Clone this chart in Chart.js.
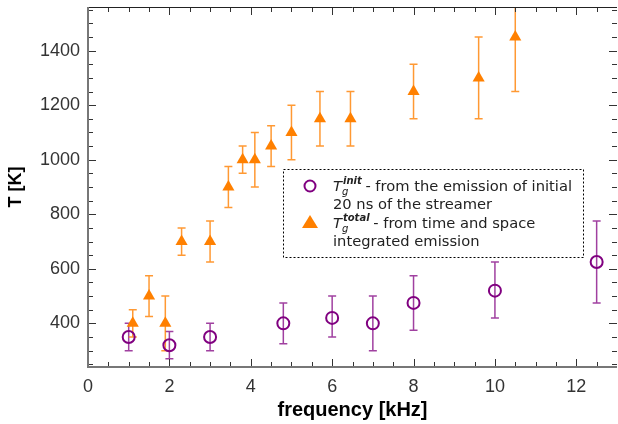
<!DOCTYPE html>
<html>
<head>
<meta charset="utf-8">
<script src="https://cdn.jsdelivr.net/npm/chart.js@4.4.0/dist/chart.umd.min.js"></script>
<style>
  html, body { margin: 0; padding: 0; background: #fff; }
</style>
</head>
<body>
<canvas id="chart" width="618" height="424"></canvas>
<script>
// T_g^init : from the emission of the initial 20 ns
const initFreq = [1, 2, 3, 4.8, 6, 7, 8, 10, 12.5];
const initT = [350, 320, 350, 400, 420, 400, 475, 520, 625];
const initLow = [300, 270, 300, 325, 350, 300, 375, 420, 475];
const initHigh = [400, 370, 400, 475, 500, 500, 575, 625, 775];

// T_g^total : time and space integrated emission
const totalFreq = [1.1, 1.5, 1.9, 2.3, 3, 3.45, 3.8, 4.1, 4.5, 5, 5.7, 6.45, 8, 9.6, 10.5];
const totalT = [400, 500, 400, 700, 700, 900, 1000, 1000, 1050, 1100, 1150, 1150, 1250, 1300, 1450];
const totalLow = [350, 425, 300, 650, 625, 825, 950, 900, 975, 1000, 1050, 1050, 1150, 1150, 1250];
const totalHigh = [450, 575, 500, 750, 775, 975, 1050, 1100, 1125, 1200, 1250, 1250, 1350, 1450, 1650];

const xTicks = [0, 2, 4, 6, 8, 10, 12];
const yTicks = [400, 600, 800, 1000, 1200, 1400];

const legendItems = [
    { marker: 'circle', sup: 'init', lines: [' - from the emission of initial', '20 ns of the streamer'] },
    { marker: 'triangle', sup: 'total', lines: [' - from time and space', 'integrated emission'] }
];

const PURPLE = '#800080';
const ORANGE = '#ff8000';
const TICK_FONT = '18px "Liberation Sans"';

const toPoints = (xs, ys) => xs.map((x, i) => ({ x, y: ys[i] }));

const errorBars = {
    id: 'errorBars',
    beforeDatasetsDraw(chart) {
        const { ctx, chartArea: a, scales: { x, y } } = chart;
        const sets = [
            { xs: initFreq, lo: initLow, hi: initHigh, color: 'rgba(128,0,128,0.75)' },
            { xs: totalFreq, lo: totalLow, hi: totalHigh, color: 'rgba(255,128,0,0.8)' }
        ];
        ctx.save();
        ctx.beginPath();
        ctx.rect(a.left, a.top, a.right - a.left, a.bottom - a.top);
        ctx.clip();
        ctx.lineWidth = 1.5;
        sets.forEach(s => {
            ctx.strokeStyle = s.color;
            s.xs.forEach((fx, i) => {
                const px = x.getPixelForValue(fx);
                const top = y.getPixelForValue(s.hi[i]);
                const bot = y.getPixelForValue(s.lo[i]);
                ctx.beginPath();
                ctx.moveTo(px, top); ctx.lineTo(px, bot);
                ctx.moveTo(px - 4, top); ctx.lineTo(px + 4, top);
                ctx.moveTo(px - 4, bot); ctx.lineTo(px + 4, bot);
                ctx.stroke();
            });
        });
        ctx.restore();
    }
};

const frame = {
    id: 'frame',
    afterDraw(chart) {
        const { ctx, chartArea: a, scales: { x, y } } = chart;
        ctx.save();
        // tick labels
        ctx.fillStyle = '#333';
        ctx.font = TICK_FONT;
        ctx.textAlign = 'center';
        ctx.textBaseline = 'top';
        xTicks.forEach(v => ctx.fillText(String(v), x.getPixelForValue(v), a.bottom + 11));
        ctx.textAlign = 'right';
        ctx.textBaseline = 'middle';
        yTicks.forEach(v => ctx.fillText(String(v), a.left - 8, y.getPixelForValue(v)));

        // inward ticks on all four sides
        ctx.strokeStyle = '#333';
        ctx.lineWidth = 1;
        for (let v = 0.5; v < 13; v += 0.5) {
            const px = Math.round(x.getPixelForValue(v)) + 0.5;
            const len = v % 2 === 0 ? 8 : 5;
            ctx.beginPath();
            ctx.moveTo(px, a.bottom); ctx.lineTo(px, a.bottom - len);
            ctx.moveTo(px, a.top); ctx.lineTo(px, a.top + len);
            ctx.stroke();
        }
        for (let v = 250; v < 1560; v += 50) {
            const py = Math.round(y.getPixelForValue(v)) + 0.5;
            const len = v % 200 === 0 ? 8 : 5;
            ctx.beginPath();
            ctx.moveTo(a.left, py); ctx.lineTo(a.left + len, py);
            ctx.moveTo(a.right, py); ctx.lineTo(a.right - len, py);
            ctx.stroke();
        }
        // top border
        ctx.strokeStyle = '#222';
        ctx.beginPath();
        ctx.moveTo(a.left, a.top + 0.5); ctx.lineTo(a.right, a.top + 0.5);
        ctx.stroke();
        // left and bottom axis lines
        ctx.strokeStyle = '#777';
        ctx.lineWidth = 2;
        ctx.beginPath();
        ctx.moveTo(a.left, a.top); ctx.lineTo(a.left, a.bottom); ctx.lineTo(a.right, a.bottom);
        ctx.stroke();
        ctx.restore();
    }
};

const legendBox = {
    id: 'legendBox',
    afterDraw(chart) {
        const { ctx } = chart;
        const bx = 283, by = 169, bw = 300, bh = 88;
        ctx.save();
        ctx.fillStyle = '#fff';
        ctx.fillRect(bx, by, bw, bh);
        ctx.strokeStyle = '#000';
        ctx.lineWidth = 1;
        ctx.setLineDash([2, 2]);
        ctx.strokeRect(bx + 0.5, by + 0.5, bw, bh);
        ctx.setLineDash([]);

        const tx = 333;
        let base = 191;
        legendItems.forEach(item => {
            const my = base - 5;
            if (item.marker === 'circle') {
                ctx.strokeStyle = PURPLE;
                ctx.lineWidth = 2;
                ctx.beginPath();
                ctx.arc(310, my, 5.5, 0, Math.PI * 2);
                ctx.stroke();
            } else {
                ctx.fillStyle = ORANGE;
                ctx.beginPath();
                ctx.moveTo(310, my - 8);
                ctx.lineTo(318, my + 5);
                ctx.lineTo(302, my + 5);
                ctx.closePath();
                ctx.fill();
            }
            ctx.fillStyle = '#222';
            ctx.textBaseline = 'alphabetic';
            let cx = tx;
            ctx.font = 'italic 14.7px "DejaVu Sans"';
            ctx.fillText('T', cx, base);
            cx += ctx.measureText('T').width;
            ctx.font = 'italic 10px "DejaVu Sans"';
            ctx.fillText('g', cx, base + 4);
            ctx.font = 'italic bold 10px "DejaVu Sans"';
            ctx.fillText(item.sup, cx + 1, base - 7);
            cx += Math.max(ctx.measureText(item.sup).width, 7);
            ctx.font = '14.7px "DejaVu Sans"';
            ctx.fillText(item.lines[0], cx, base);
            ctx.fillText(item.lines[1], tx, base + 18);
            base += 37;
        });
        ctx.restore();
    }
};

new Chart(document.getElementById('chart').getContext('2d'), {
    type: 'scatter',
    data: {
        datasets: [
            {
                label: 'Tg init',
                data: toPoints(initFreq, initT),
                pointStyle: 'circle',
                pointRadius: 6,
                pointBorderWidth: 2,
                borderColor: PURPLE,
                backgroundColor: 'rgba(255,255,255,0)'
            },
            {
                label: 'Tg total',
                data: toPoints(totalFreq, totalT),
                pointStyle: 'triangle',
                pointRadius: 7,
                pointBorderWidth: 0,
                borderColor: ORANGE,
                backgroundColor: ORANGE
            }
        ]
    },
    options: {
        responsive: false,
        animation: false,
        devicePixelRatio: 1,
        layout: { autoPadding: false, padding: { top: 7, right: 1, left: 0, bottom: 0 } },
        plugins: { legend: { display: false }, tooltip: { enabled: false } },
        scales: {
            x: {
                type: 'linear',
                min: 0,
                max: 13,
                afterBuildTicks: s => { s.ticks = xTicks.map(v => ({ value: v })); },
                afterFit: s => { s.height = 57; },
                grid: { display: false, drawTicks: false },
                border: { display: false },
                ticks: { display: false },
                title: { display: true, text: 'frequency [kHz]', color: '#000', padding: { top: 0, bottom: 2 },
                         font: { family: 'Liberation Sans', size: 20, weight: 'bold' } }
            },
            y: {
                min: 240,
                max: 1560,
                afterBuildTicks: s => { s.ticks = yTicks.map(v => ({ value: v })); },
                afterFit: s => { s.width = 88; },
                grid: { display: false, drawTicks: false },
                border: { display: false },
                ticks: { display: false },
                title: { display: true, text: 'T [K]', color: '#000', padding: { top: 5, bottom: 0 },
                         font: { family: 'Liberation Sans', size: 18, weight: 'bold' } }
            }
        }
    },
    plugins: [errorBars, frame, legendBox]
});
</script>
</body>
</html>
